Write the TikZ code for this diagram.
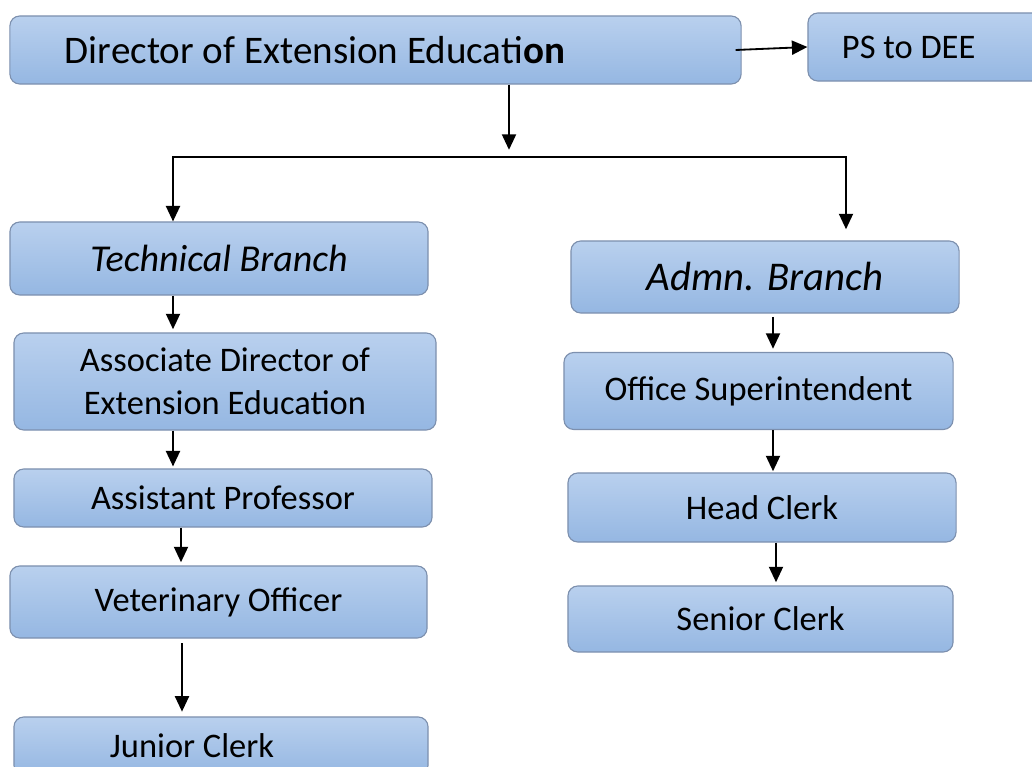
\documentclass[tikz,border=0pt]{standalone}
\usepackage{fontspec}
\setmainfont{Carlito}
\usetikzlibrary{arrows.meta}
\definecolor{boxtop}{HTML}{B9D0EE}
\definecolor{boxbot}{HTML}{95B7E2}
\definecolor{boxedge}{HTML}{7D90AE}

\begin{document}
\begin{tikzpicture}[x=0.025cm, y=-0.025cm,
    box/.style={draw=boxedge, line width=0.8pt, rounded corners=7pt,
        top color=boxtop, bottom color=boxbot, inner sep=0pt, align=center,
        font=\fontsize{24.5}{30.6}\selectfont},
    arr/.style={-{Triangle[length=11pt,width=10pt]}, line width=1.3pt}]
        \useasboundingbox (0,0) rectangle (1032,767);
        \clip (0,0) rectangle (1032,767);
        % Top row
        \node[box, minimum width=18.275cm, minimum height=1.7cm,
            font=\fontsize{27.8}{33}\selectfont]
            (dee) at (375.5,50) {\makebox[15.525cm][l]{Director of Extension Educati\textbf{on}}};
        \node[box, minimum width=6.25cm, minimum height=1.7cm]
            (ps) at (933,47) {\makebox[4.55cm][l]{PS to DEE}};
        % Technical side
        \node[box, minimum width=10.45cm, minimum height=1.825cm,
            font=\fontsize{27}{33}\selectfont\itshape] (tech) at (219,258.5) {Technical Branch};
        \node[box, minimum width=10.55cm, minimum height=2.425cm] (assoc) at (225,381.5)
            {Associate Director of\\Extension Education};
        \node[box, minimum width=10.45cm, minimum height=1.45cm] (asst) at (223,498) {Assistant Professor};
        \node[box, minimum width=10.425cm, minimum height=1.8cm] (vet) at (218.5,602) {Veterinary Officer};
        \node[box, minimum width=10.35cm, minimum height=1.45cm]
            (junior) at (221,746) {\makebox[5.55cm][l]{Junior Clerk}};
        % Admn side
        \node[box, minimum width=9.7cm, minimum height=1.8cm,
            font=\fontsize{29}{35}\selectfont\itshape] (admn) at (765,277) {Admn. Branch};
        \node[box, minimum width=9.725cm, minimum height=1.925cm] (office) at (758.5,391) {Office Superintendent};
        \node[box, minimum width=9.7cm, minimum height=1.725cm] (head) at (762,507.5) {Head Clerk};
        \node[box, minimum width=9.625cm, minimum height=1.65cm] (senior) at (760.5,619) {Senior Clerk};
        % Connectors
        \coordinate (split) at (509,157);
        \draw[arr] ([xshift=-0.15cm]dee.east) -- (ps.west);
        \draw[arr] (dee.south -| split) -- ([yshift=0.18cm]split);
        \draw[arr] (846,157) -- (173,157) -- (tech.north -| 173,0);
        \draw[arr] (split) -| ([yshift=0.28cm]admn.north -| 846,0);
        \draw[arr] (tech.south -| 173,0) -- ([yshift=0.08cm]assoc.north -| 173,0);
        \draw[arr] (assoc.south -| 173,0) -- ([yshift=0.05cm]asst.north -| 173,0);
        \draw[arr] (asst.south -| 181,0) -- ([yshift=0.08cm]vet.north -| 181,0);
        \draw[arr] ([yshift=-0.12cm]vet.south -| 182,0) -- ([yshift=0.12cm]junior.north -| 182,0);
        \draw[arr] ([yshift=-0.08cm]admn.south -| 773,0) -- ([yshift=0.08cm]office.north -| 773,0);
        \draw[arr] (office.south -| 773,0) -- ([yshift=0.03cm]head.north -| 773,0);
        \draw[arr] (head.south -| 776,0) -- ([yshift=0.08cm]senior.north -| 776,0);
\end{tikzpicture}
\end{document}
